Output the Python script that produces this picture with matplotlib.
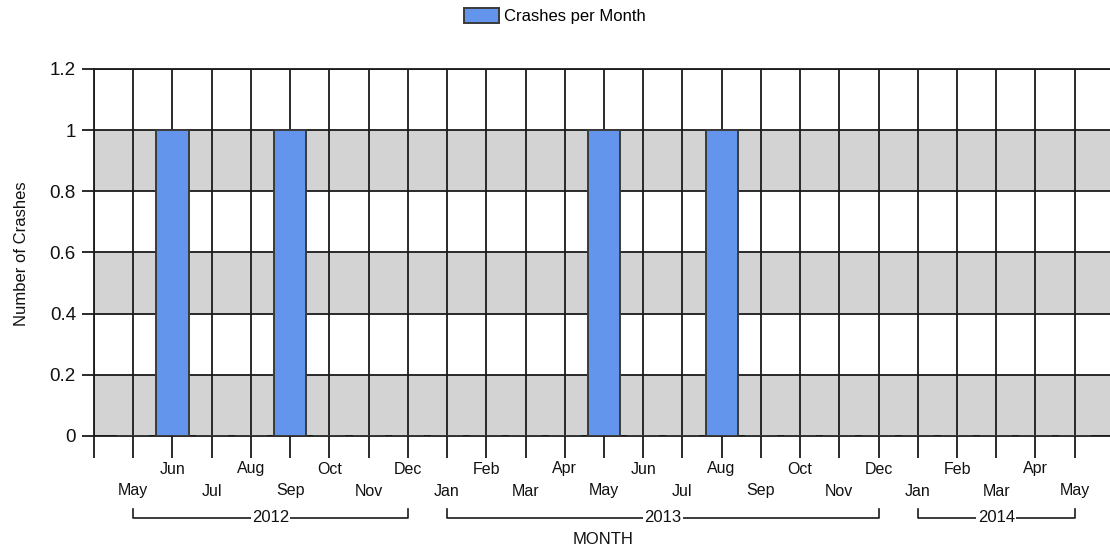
import matplotlib
matplotlib.use("Agg")
import matplotlib.pyplot as plt
import matplotlib.transforms as mtransforms
from matplotlib.patches import Patch

plt.rcParams['font.family'] = ['Liberation Sans', 'DejaVu Sans']

# Monthly series, May 2012 .. May 2014
months = ["May", "Jun", "Jul", "Aug", "Sep", "Oct", "Nov", "Dec",
          "Jan", "Feb", "Mar", "Apr", "May", "Jun", "Jul", "Aug", "Sep", "Oct", "Nov", "Dec",
          "Jan", "Feb", "Mar", "Apr", "May"]
years = [2012] * 8 + [2013] * 12 + [2014] * 5
crashes = [0, 1, 0, 0, 1, 0, 0, 0,
           0, 0, 0, 0, 1, 0, 0, 1, 0, 0, 0, 0,
           0, 0, 0, 0, 0]
y_ticks = [0, 0.2, 0.4, 0.6, 0.8, 1, 1.2]
y_tick_labels = ["0", "0.2", "0.4", "0.6", "0.8", "1", "1.2"]

W, H = 1110, 551
fig = plt.figure(figsize=(W / 100, H / 100), dpi=100)
ax = fig.add_axes([94 / W, 1 - 436 / H, 1 - 94 / W, (436 - 69) / H])

line_c = "#1a1a1a"
lw = 1.3
x = list(range(len(months)))

# alternating bands
for i in range(0, len(y_ticks) - 1, 2):
    ax.axhspan(y_ticks[i], y_ticks[i + 1], color="#d3d3d3", zorder=0, lw=0)

ax.bar(x, crashes, width=0.82, color="#6495ed", edgecolor="#3a3a3a",
       linewidth=1.4, zorder=3)

ax.set_xlim(-1, 24.9)
ax.set_ylim(0, 1.2)
ax.set_xticks(list(range(-1, len(months))))
ax.set_xticklabels([])
ax.set_yticks(y_ticks)
ax.set_yticklabels(y_tick_labels, fontsize=13.5, color="#111111")
ax.tick_params(axis="x", length=16, width=lw, color=line_c, direction="out")
ax.tick_params(axis="y", length=9, width=lw, color=line_c, direction="out", pad=4)
ax.grid(True, color=line_c, linewidth=lw, zorder=1)
ax.set_axisbelow(True)
for side in ("left", "bottom", "top"):
    ax.spines[side].set_color(line_c)
    ax.spines[side].set_linewidth(lw)
ax.spines["right"].set_visible(False)

# staggered month labels
trans = mtransforms.blended_transform_factory(ax.transData, ax.transAxes)
for i, m in enumerate(months):
    off = -55 if i % 2 == 0 else -33
    ax.annotate(m, xy=(i, 0), xycoords=trans, xytext=(0, off * 0.72),
                textcoords="offset points", ha="center", va="center",
                fontsize=11.5, color="#111111", annotation_clip=False)

# year brackets
inv = fig.transFigure.inverted()
for yr in sorted(set(years)):
    idx = [i for i, v in enumerate(years) if v == yr]
    a, b = idx[0], idx[-1]
    p0 = ax.transData.transform((a, 0))
    p1 = ax.transData.transform((b, 0))
    ybase = p0[1] - 82
    pts = [(p0[0], ybase + 9), (p0[0], ybase), (p1[0], ybase), (p1[0], ybase + 9)]
    fpts = [inv.transform(p) for p in pts]
    fig.add_artist(plt.Line2D([p[0] for p in fpts], [p[1] for p in fpts],
                              color=line_c, lw=1.2))
    c = inv.transform(((p0[0] + p1[0]) / 2, ybase))
    fig.text(c[0], c[1], str(yr), ha="center", va="center", fontsize=12,
             color="#111111",
             bbox=dict(facecolor="white", edgecolor="none", pad=1.0))

fig.text(603 / W, 1 - 539 / H, "MONTH", ha="center", va="center",
         fontsize=12, color="#111111")
fig.text(22 / W, 1 - 254 / H, "Number of Crashes", ha="center", va="center",
         rotation=90, fontsize=12, color="#111111")

fig.legend(handles=[Patch(facecolor="#6495ed", edgecolor="#3a3a3a", linewidth=1.4,
                          label="Crashes per Month")],
           loc="center", bbox_to_anchor=(555 / W, 1 - 16 / H), frameon=False,
           fontsize=12, handlelength=2.1, handleheight=1.0, handletextpad=0.3)

fig.savefig("out.png", dpi=100)
